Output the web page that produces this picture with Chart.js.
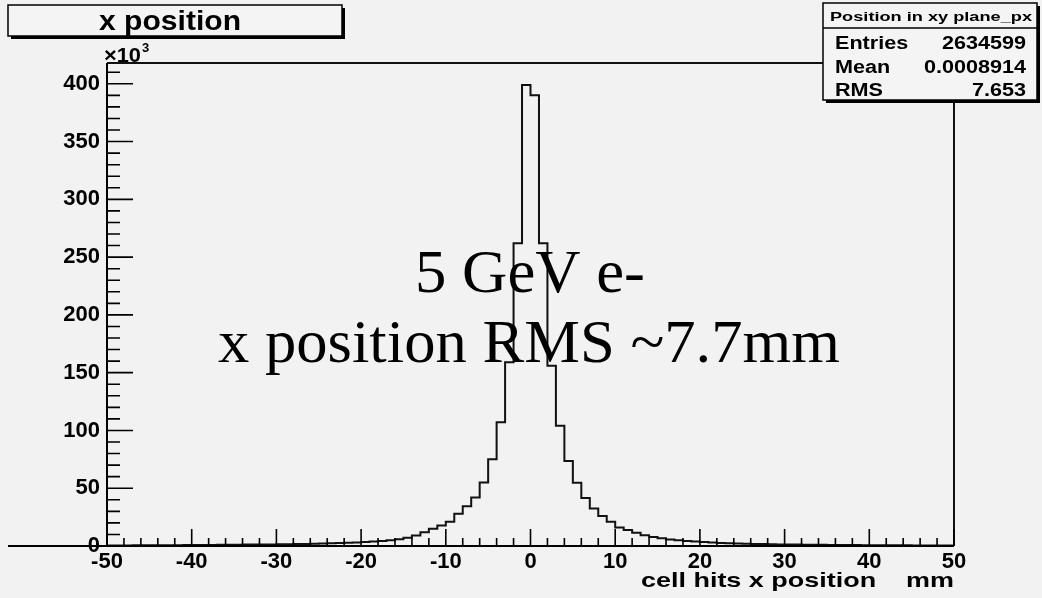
<!DOCTYPE html>
<html>
<head>
<meta charset="utf-8">
<script src="https://cdn.jsdelivr.net/npm/chart.js@4.4.0/dist/chart.umd.min.js"></script>
<style>
  html, body { margin: 0; padding: 0; background: #f2f2f2; }
</style>
</head>
<body>
<canvas id="chart" width="1042" height="598"></canvas>
<script>
// histogram: 1 mm bins from -50 to 50, counts in thousands
const xMin = -50;
const binWidth = 1;
const counts = [
  0.5, 0.5, 0.5, 0.6, 0.6, 0.6, 0.7, 0.7, 0.7, 0.8,      // -50 .. -41
  0.8, 0.9, 0.9, 1.0, 1.0, 1.1, 1.2, 1.2, 1.3, 1.4,      // -40 .. -31
  1.5, 1.6, 1.7, 1.8, 2.0, 2.1, 2.3, 2.5, 2.8, 3.1,      // -30 .. -21
  3.5, 3.9, 4.4, 5.0, 5.9, 7.1, 9.1, 12.0, 14.9, 17.8,   // -20 .. -11
  21.0, 28.0, 34.5, 42.0, 55.0, 75.0, 107.0, 159.0, 262.0, 399.0, // -10 .. -1
  390.0, 262.0, 156.0, 104.0, 73.6, 54.7, 41.6, 32.4, 25.9, 21.0, // 0 .. 9
  16.0, 13.9, 11.4, 9.3, 7.8, 6.6, 5.7, 5.0, 4.4, 3.9,   // 10 .. 19
  3.4, 3.0, 2.7, 2.4, 2.2, 2.0, 1.8, 1.7, 1.5, 1.4,      // 20 .. 29
  1.3, 1.2, 1.1, 1.1, 1.0, 0.9, 0.9, 0.8, 0.8, 0.7,      // 30 .. 39
  0.7, 0.7, 0.6, 0.6, 0.6, 0.5, 0.5, 0.5, 0.5, 0.4       // 40 .. 49
];
const xRange = [-50, 50];
const yRange = [0, 418];
const histTitle = 'x position';
const xTitle = 'cell hits x position    mm';
const statsName = 'Position in xy plane_px';
const statsLabels = ['Entries', 'Mean', 'RMS'];
const statsValues = ['2634599', '0.0008914', '7.653'];
const noteLines = ['5 GeV e-', 'x position RMS ~7.7mm'];

// step points at the low edge of each bin, plus the closing edge
const points = counts.map((c, i) => ({ x: xMin + i * binWidth, y: c }));
points.push({ x: xMin + counts.length * binWidth, y: counts[counts.length - 1] });

const SANS = '"Liberation Sans", Arial, sans-serif';
const SERIF = '"Liberation Serif", "Times New Roman", serif';

// draw text squeezed/stretched to a given width
function fitText(ctx, text, x, y, w, align) {
  const m = ctx.measureText(text).width;
  scaledText(ctx, text, x, y, w / m, align);
}

// draw text with a horizontal stretch factor k
function scaledText(ctx, text, x, y, k, align) {
  const w = ctx.measureText(text).width * k;
  ctx.save();
  let left = x;
  if (align === 'center') left = x - w / 2;
  if (align === 'right') left = x - w;
  ctx.translate(left, y);
  ctx.scale(k, 1);
  ctx.textAlign = 'left';
  ctx.fillText(text, 0, 0);
  ctx.restore();
}

function shadowBox(ctx, x, y, w, h) {
  ctx.fillStyle = '#000';
  ctx.fillRect(x + 3, y + 3, w, h);
  ctx.fillStyle = '#f4f4f4';
  ctx.fillRect(x, y, w, h);
  ctx.strokeStyle = '#000';
  ctx.lineWidth = 1.5;
  ctx.strokeRect(x, y, w, h);
}

const rootStyle = {
  id: 'rootStyle',
  beforeDraw(chart) {
    const ctx = chart.ctx;
    ctx.save();
    ctx.fillStyle = '#f2f2f2';
    ctx.fillRect(0, 0, chart.width, chart.height);
    ctx.restore();
  },
  afterDatasetsDraw(chart) {
    const ctx = chart.ctx;
    const a = chart.chartArea;
    const xs = chart.scales.x, ys = chart.scales.y;
    ctx.save();
    ctx.strokeStyle = '#111';
    // frame top + right
    ctx.lineWidth = 2;
    ctx.beginPath();
    ctx.moveTo(a.left, a.top); ctx.lineTo(a.right, a.top); ctx.lineTo(a.right, a.bottom);
    ctx.stroke();
    // axes
    ctx.strokeStyle = '#000';
    ctx.beginPath();
    ctx.moveTo(a.left, a.top); ctx.lineTo(a.left, a.bottom);
    ctx.moveTo(8, a.bottom); ctx.lineTo(a.right, a.bottom);
    ctx.stroke();
    // ticks, drawn inside the frame
    ctx.lineWidth = 1.6;
    ctx.beginPath();
    for (let v = xRange[0]; v <= xRange[1]; v += 2) {
      const px = xs.getPixelForValue(v);
      const len = v % 10 === 0 ? 17 : 8;
      ctx.moveTo(px, a.bottom); ctx.lineTo(px, a.bottom - len);
    }
    for (let v = 0; v <= yRange[1]; v += 10) {
      const py = ys.getPixelForValue(v);
      const len = v % 50 === 0 ? 26 : 13;
      ctx.moveTo(a.left, py); ctx.lineTo(a.left + len, py);
    }
    ctx.stroke();
    ctx.restore();
  },
  afterDraw(chart) {
    const ctx = chart.ctx;
    const a = chart.chartArea;
    ctx.save();
    ctx.fillStyle = '#000';
    ctx.textBaseline = 'alphabetic';

    // x10^3 over the y axis
    ctx.font = 'bold 21px ' + SANS;
    fitText(ctx, '\u00d710', a.left - 3, 62, 37, 'left');
    ctx.font = 'bold 13px ' + SANS;
    ctx.fillText('3', a.left + 35, 52);

    // x axis title, right aligned to the frame
    ctx.font = 'bold 21px ' + SANS;
    fitText(ctx, xTitle, a.right, 587, 313, 'right');

    // title box
    shadowBox(ctx, 8, 5, 334, 31);
    ctx.fillStyle = '#000';
    ctx.font = 'bold 27px ' + SANS;
    fitText(ctx, histTitle, 170, 30, 142, 'center');

    // stats box
    shadowBox(ctx, 823, 3, 214, 97);
    ctx.strokeStyle = '#000';
    ctx.lineWidth = 1.5;
    ctx.beginPath();
    ctx.moveTo(823, 28); ctx.lineTo(1037, 28);
    ctx.stroke();
    ctx.fillStyle = '#000';
    ctx.font = 'bold 13px ' + SANS;
    fitText(ctx, statsName, 931, 21, 202, 'center');
    ctx.font = 'bold 18px ' + SANS;
    const rowY = [49, 73, 96];
    statsLabels.forEach((lab, i) => {
      scaledText(ctx, lab, 835, rowY[i], 1.2, 'left');
      scaledText(ctx, statsValues[i], 1026, rowY[i], 1.2, 'right');
    });

    // overlay note
    ctx.font = '62px ' + SERIF;
    fitText(ctx, noteLines[0], 530, 292, 230, 'center');
    fitText(ctx, noteLines[1], 529, 362, 622, 'center');
    ctx.restore();
  }
};

const chart = new Chart(document.getElementById('chart'), {
  type: 'line',
  data: {
    datasets: [{
      label: histTitle,
      data: points,
      stepped: 'before',
      borderColor: '#111',
      borderWidth: 2,
      pointRadius: 0,
      fill: false
    }]
  },
  options: {
    responsive: false,
    animation: false,
    layout: { padding: { top: 63, right: 88, left: 0, bottom: 0 } },
    plugins: {
      legend: { display: false },
      title: { display: false },
      tooltip: { enabled: false }
    },
    scales: {
      x: {
        type: 'linear',
        min: xRange[0],
        max: xRange[1],
        grid: { display: false, drawTicks: false, tickLength: 0 },
        border: { display: false },
        ticks: {
          stepSize: 10,
          includeBounds: false,
          maxRotation: 0,
          autoSkip: false,
          padding: 3,
          color: '#000',
          font: { family: SANS, weight: 'bold', size: 22 }
        },
        afterFit(scale) { scale.height = 52; }
      },
      y: {
        min: yRange[0],
        max: yRange[1],
        grid: { display: false, drawTicks: false, tickLength: 0 },
        border: { display: false },
        ticks: {
          stepSize: 50,
          includeBounds: false,
          padding: 7,
          color: '#000',
          font: { family: SANS, weight: 'bold', size: 22 }
        },
        afterFit(scale) { scale.width = 107; }
      }
    }
  },
  plugins: [rootStyle]
});
</script>
</body>
</html>
